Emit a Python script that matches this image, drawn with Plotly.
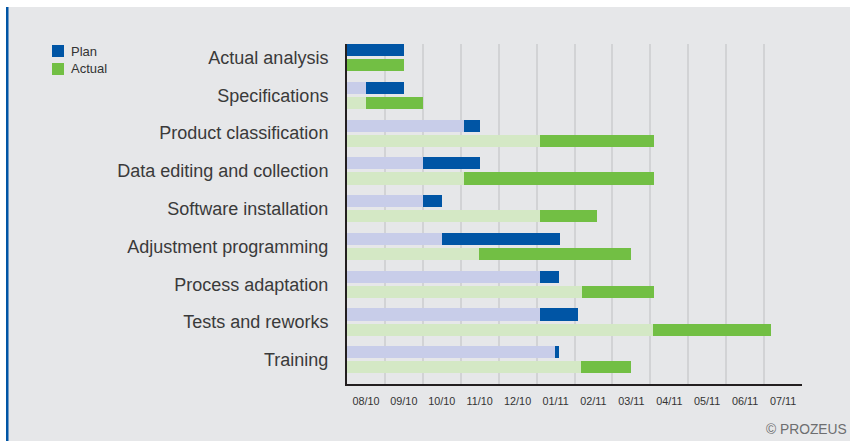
import plotly.graph_objects as go

# Data: months since 08/10 (0 = start of 08/10)
tasks = ["Actual analysis", "Specifications", "Product classification",
         "Data editing and collection", "Software installation",
         "Adjustment programming", "Process adaptation", "Tests and reworks", "Training"]
plan_start = [0.0, 0.5, 3.08, 2.0, 2.0, 2.5, 5.08, 5.08, 5.48]
plan_end = [1.5, 1.5, 3.5, 3.5, 2.5, 5.62, 5.6, 6.08, 5.6]
actual_start = [0.0, 0.5, 5.08, 3.08, 5.08, 3.48, 6.2, 8.06, 6.16]
actual_end = [1.5, 2.0, 8.1, 8.1, 6.6, 7.48, 8.1, 11.18, 7.48]
month_labels = ["08/10", "09/10", "10/10", "11/10", "12/10", "01/11",
                "02/11", "03/11", "04/11", "05/11", "06/11", "07/11"]

BG = "#e6e7e9"
BLUE = "#0055a5"
GREEN = "#72bf44"
LAV = "#c8cde9"
LGREEN = "#d4e8c5"
FONT = "Liberation Sans, Arial, sans-serif"

n = len(tasks)
idx = list(range(n))
plan_y = [i + 0.16 for i in idx]
act_y = [i + 0.56 for i in idx]
W = 0.32

fig = go.Figure()
fig.add_bar(y=plan_y, x=plan_start, base=[0] * n, orientation="h", width=W,
            marker=dict(color=LAV, line_width=0), showlegend=False, hoverinfo="skip")
fig.add_bar(y=plan_y, x=[e - s for s, e in zip(plan_start, plan_end)], base=plan_start,
            orientation="h", width=W, marker=dict(color=BLUE, line_width=0), name="Plan",
            showlegend=False)
fig.add_bar(y=act_y, x=actual_start, base=[0] * n, orientation="h", width=W,
            marker=dict(color=LGREEN, line_width=0), showlegend=False, hoverinfo="skip")
fig.add_bar(y=act_y, x=[e - s for s, e in zip(actual_start, actual_end)], base=actual_start,
            orientation="h", width=W, marker=dict(color=GREEN, line_width=0), name="Actual",
            showlegend=False)

L, R, T, B = 347, 48, 44, 57
PW, PH = 850 - L - R, 441 - T - B


def xp(px):
    return (px - L) / PW


def yp(py):
    return (441 - B - py) / PH


shapes = [
    # white top strip and left strip
    dict(type="rect", xref="paper", yref="paper", x0=xp(0), x1=xp(850), y0=yp(0), y1=yp(7),
         fillcolor="white", line_width=0, layer="above"),
    dict(type="rect", xref="paper", yref="paper", x0=xp(0), x1=xp(6), y0=yp(0), y1=yp(441),
         fillcolor="white", line_width=0, layer="above"),
    dict(type="rect", xref="paper", yref="paper", x0=xp(6), x1=xp(8.5), y0=yp(7), y1=yp(441),
         fillcolor="#0055a5", line_width=0, layer="above"),
    # legend squares
    dict(type="rect", xref="paper", yref="paper", x0=xp(52), x1=xp(64), y0=yp(45), y1=yp(57),
         fillcolor=BLUE, line_width=0),
    dict(type="rect", xref="paper", yref="paper", x0=xp(52), x1=xp(64), y0=yp(63), y1=yp(75),
         fillcolor=GREEN, line_width=0),
]

annotations = [
    dict(text="Plan", xref="paper", yref="paper", x=xp(69), y=yp(51), xanchor="left",
         yanchor="middle", showarrow=False, font=dict(family=FONT, size=13, color="#333333")),
    dict(text="Actual", xref="paper", yref="paper", x=xp(69), y=yp(69), xanchor="left",
         yanchor="middle", showarrow=False, font=dict(family=FONT, size=13, color="#333333")),
    dict(text="© PROZEUS", xref="paper", yref="paper", x=xp(849), y=yp(429), xanchor="right",
         yanchor="middle", showarrow=False, font=dict(family=FONT, size=13.8, color="#6d6e70")),
]

fig.update_layout(
    width=850, height=441,
    margin=dict(l=L, r=R, t=T, b=B, pad=0),
    paper_bgcolor=BG, plot_bgcolor=BG,
    barmode="overlay",
    bargap=0,
    shapes=shapes,
    annotations=annotations,
    font=dict(family=FONT, color="#333333"),
    xaxis=dict(
        range=[0, 12],
        tickmode="array",
        tickvals=[i + 0.5 for i in range(12)],
        ticktext=month_labels,
        ticks="",
        ticklabelstandoff=6,
        tickfont=dict(family=FONT, size=10.8, color="#333333"),
        showgrid=False,
        zeroline=False,
        showline=True, linecolor="#231f20", linewidth=2,
        minor=dict(tickmode="array", tickvals=list(range(1, 13)), showgrid=True,
                   gridcolor="#d2d3d5", gridwidth=2, ticks=""),
        fixedrange=True,
    ),
    yaxis=dict(
        range=[9, 0],
        tickmode="array",
        tickvals=[i + 0.36 for i in idx],
        ticktext=tasks,
        ticks="",
        ticklabelstandoff=13,
        tickfont=dict(family=FONT, size=18, color="#3a3a3a"),
        showgrid=False,
        zeroline=False,
        showline=True, linecolor="#231f20", linewidth=2,
        fixedrange=True,
    ),
)

fig.write_html("out.html", config={"displayModeBar": False},
               post_script="document.body.style.margin='0';")
